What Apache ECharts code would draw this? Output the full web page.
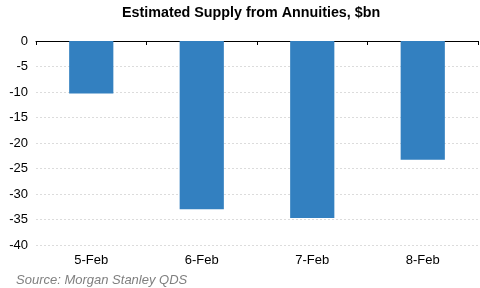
<!DOCTYPE html>
<html><head><meta charset="utf-8">
<script src="https://cdn.jsdelivr.net/npm/echarts@6/dist/echarts.min.js"></script>
<style>html,body{margin:0;padding:0;background:#fff}#c{width:480px;height:288px}</style>
</head><body><div id="c"></div>
<script>
var categories = ['5-Feb', '6-Feb', '7-Feb', '8-Feb'];
var supply = [-10.3, -33.0, -34.7, -23.3];
var yTicks = [0, -5, -10, -15, -20, -25, -30, -35, -40];

var chart = echarts.init(document.getElementById('c'), null, {renderer: 'canvas'});
chart.setOption({
  animation: false,
  title: {
    text: 'Estimated Supply from Annuities, $bn',
    left: 122, top: 6, padding: 0,
    textStyle: {fontFamily: 'Liberation Sans, Arial', fontWeight: 'bold', fontSize: 14.3, color: '#000'}
  },
  graphic: [{
    type: 'text', left: 16, top: 274,
    style: {text: 'Source: Morgan Stanley QDS', fill: '#7f7f7f', font: 'italic 13px "Liberation Sans", Arial'}
  }],
  grid: {left: 36, right: 2, top: 41, bottom: 43},
  xAxis: [{
    type: 'category', data: categories, position: 'bottom',
    axisLine: {show: false}, axisTick: {show: false},
    axisLabel: {color: '#000', fontFamily: 'Liberation Sans, Arial', fontSize: 13, margin: 9}
  }, {
    type: 'category', data: categories, position: 'top',
    axisLine: {show: true, onZero: false, lineStyle: {color: '#000', width: 1}},
    axisTick: {show: true, inside: true, length: 4, lineStyle: {color: '#000'}},
    axisLabel: {show: false}
  }],
  yAxis: {
    type: 'value', min: -40, max: 0, interval: 5,
    axisLine: {show: false}, axisTick: {show: false},
    axisLabel: {color: '#000', fontFamily: 'Liberation Sans, Arial', fontSize: 13, margin: 8,
      formatter: function (v) { return yTicks.indexOf(v) >= 0 ? String(v) : ''; }},
    splitLine: {show: true, lineStyle: {color: '#dcdcdc', type: [2, 2], width: 1}}
  },
  series: [{
    type: 'bar', data: supply, xAxisIndex: 0, barWidth: '40%',
    itemStyle: {color: '#3380c0'}
  }]
});
</script></body></html>
